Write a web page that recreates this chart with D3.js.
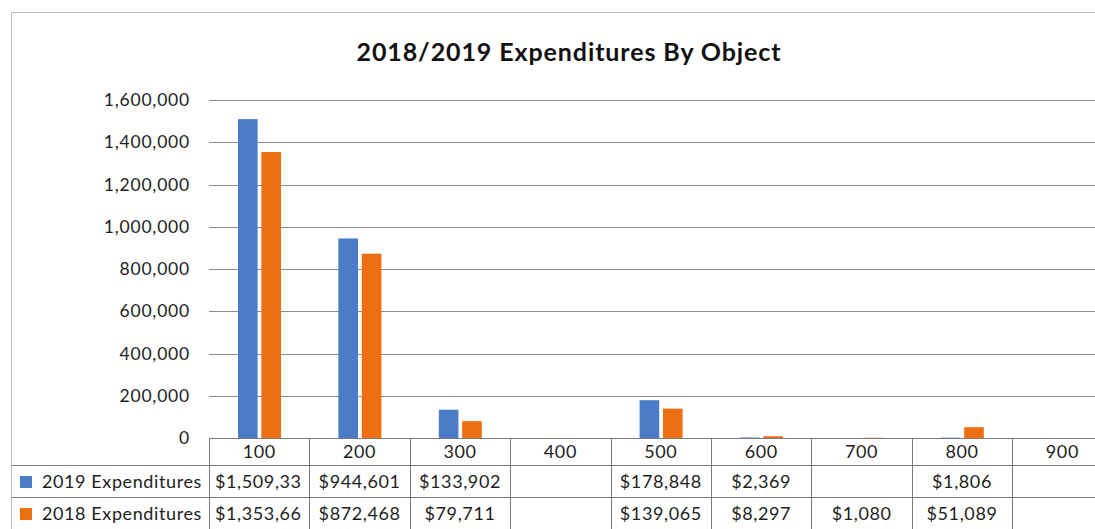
<!DOCTYPE html>
<html>
<head>
<meta charset="utf-8">
<script src="https://cdn.jsdelivr.net/npm/d3@7/dist/d3.min.js"></script>
<style>
  html, body { margin: 0; padding: 0; background: #fff; }
  svg { display: block; font-family: Lato, "Liberation Sans", sans-serif; }
</style>
</head>
<body>
<svg id="chart" width="1095" height="529"></svg>
<script>
// Object codes and yearly expenditures (null = no spending recorded)
const categories = ["100", "200", "300", "400", "500", "600", "700", "800", "900"];
const seriesNames = ["2019 Expenditures", "2018 Expenditures"];
const values2019 = [1509330, 944601, 133902, null, 178848, 2369, null, 1806, null];
const values2018 = [1353660, 872468, 79711, null, 139065, 8297, 1080, 51089, null];
const yTicks = [0, 200000, 400000, 600000, 800000, 1000000, 1200000, 1400000, 1600000];
const titleText = "2018/2019 Expenditures By Object";

const seriesValues = [values2019, values2018];
const colors = ["#4a7cc8", "#ee6f12"];

const svg = d3.select("#chart");
const W = 1095, H = 529;

// layout
const frameX = 11.5, frameY = 12.5;
const plotLeft = 209, plotTop = 100, baseY = 438;
const rowLines = [465, 497];
const rowBaselines = [488, 520];
const textFill = "#1e1e1e";

const x0 = d3.scaleBand().domain(categories).range([plotLeft, plotLeft + 100.4 * categories.length]);
const x1 = d3.scaleBand().domain(seriesNames).range([29, 72]).paddingInner(0.16);
const y = d3.scaleLinear().domain([0, 1600000]).range([baseY, plotTop]);

// chart frame
svg.append("path")
  .attr("d", `M${frameX},${H} V${frameY} H${W}`)
  .attr("fill", "none").attr("stroke", "#bdbdbd").attr("stroke-width", 1);

// title
svg.append("text")
  .attr("x", 569).attr("y", 61)
  .attr("text-anchor", "middle")
  .attr("font-weight", 700).attr("font-size", 25).attr("letter-spacing", 0.9)
  .attr("fill", "#111")
  .text(titleText);

// gridlines
svg.append("g").selectAll("line")
  .data(yTicks.filter(d => d > 0))
  .join("line")
  .attr("x1", plotLeft).attr("x2", W)
  .attr("y1", d => Math.round(y(d)) + 0.5).attr("y2", d => Math.round(y(d)) + 0.5)
  .attr("stroke", "#8c8c8c").attr("stroke-width", 1);

// y axis labels
const fmt = d3.format(",");
svg.append("g").selectAll("text")
  .data(yTicks)
  .join("text")
  .attr("x", 190).attr("y", d => y(d) + 6)
  .attr("text-anchor", "end").attr("font-size", 17.5).attr("letter-spacing", 0.8)
  .attr("fill", textFill)
  .text(d => fmt(d));

// bars
const groups = svg.append("g").selectAll("g")
  .data(categories)
  .join("g")
  .attr("transform", d => `translate(${x0(d)},0)`);

groups.selectAll("rect")
  .data((c, i) => seriesNames.map((s, k) => ({ s, k, v: seriesValues[k][i] })).filter(d => d.v != null))
  .join("rect")
  .attr("x", d => x1(d.s))
  .attr("width", x1.bandwidth())
  .attr("y", d => y(d.v))
  .attr("height", d => baseY - y(d.v))
  .attr("fill", d => colors[d.k]);

// data table
const table = svg.append("g");
const tableRight = x0.range()[1];
const lineColor = "#7a7a7a";
const cellFont = 18, cellSpacing = 0.6;

// horizontal rules
table.append("line").attr("x1", plotLeft).attr("x2", W)
  .attr("y1", baseY + 0.5).attr("y2", baseY + 0.5)
  .attr("stroke", lineColor);
rowLines.forEach(yy => {
  table.append("line").attr("x1", frameX).attr("x2", W)
    .attr("y1", yy + 0.5).attr("y2", yy + 0.5)
    .attr("stroke", lineColor);
});

// vertical rules at category boundaries
const bounds = categories.map(c => x0(c)).concat([tableRight]);
table.selectAll("line.v")
  .data(bounds)
  .join("line").attr("class", "v")
  .attr("x1", d => Math.round(d) + 0.5).attr("x2", d => Math.round(d) + 0.5)
  .attr("y1", baseY).attr("y2", H)
  .attr("stroke", lineColor);

// category header
table.selectAll("text.cat")
  .data(categories)
  .join("text").attr("class", "cat")
  .attr("x", d => x0(d) + x0.bandwidth() / 2)
  .attr("y", 458)
  .attr("text-anchor", "middle").attr("font-size", cellFont).attr("letter-spacing", cellSpacing)
  .attr("fill", textFill)
  .text(d => d);

// legend keys + series names
seriesNames.forEach((s, k) => {
  const by = rowBaselines[k];
  table.append("rect")
    .attr("x", 20).attr("y", by - 12).attr("width", 12).attr("height", 12)
    .attr("fill", colors[k]);
  table.append("text")
    .attr("x", 42).attr("y", by)
    .attr("font-size", cellFont).attr("letter-spacing", cellSpacing)
    .attr("fill", textFill)
    .text(s);
});

// value cells; text that overflows a cell is cut back to whole characters
const money = d3.format("$,");
seriesNames.forEach((s, k) => {
  const by = rowBaselines[k];
  categories.forEach((c, i) => {
    const v = seriesValues[k][i];
    if (v == null) return;
    const room = x0.bandwidth() - 10;
    const t = table.append("text")
      .attr("y", by)
      .attr("font-size", cellFont).attr("letter-spacing", cellSpacing)
      .attr("fill", textFill)
      .text(money(v));
    let str = money(v);
    if (t.node().getComputedTextLength() > room) {
      while (str.length > 1 && t.node().getComputedTextLength() > room) {
        str = str.slice(0, -1);
        t.text(str);
      }
      t.attr("x", x0(c) + 6);
    } else {
      t.attr("x", x0(c) + x0.bandwidth() / 2).attr("text-anchor", "middle");
    }
  });
});
</script>
</body>
</html>
